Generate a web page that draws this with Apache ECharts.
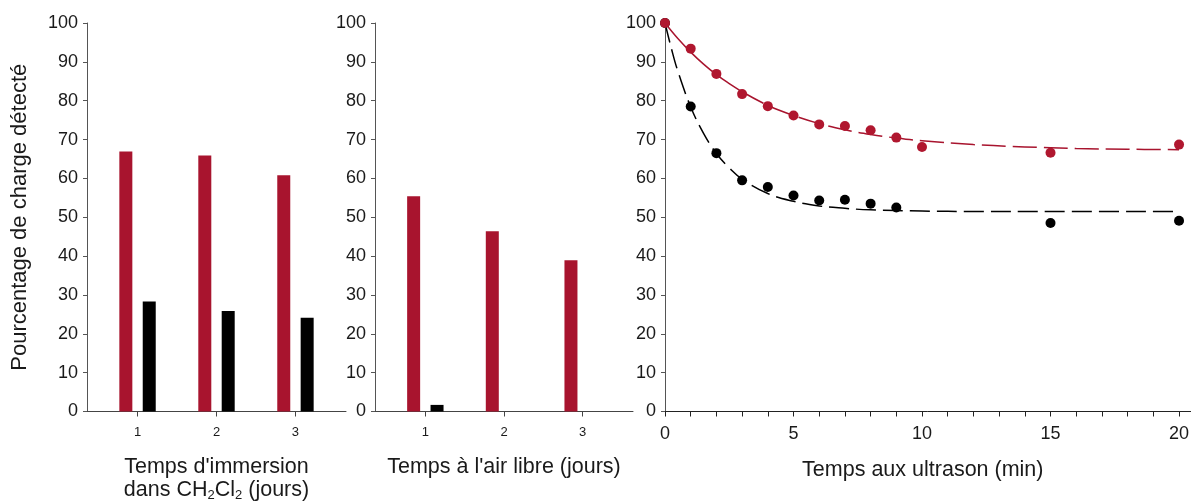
<!DOCTYPE html>
<html><head><meta charset="utf-8">
<script src="https://cdn.jsdelivr.net/npm/echarts@6/dist/echarts.min.js"></script>
<style>html,body{margin:0;padding:0;background:#fff}#c{width:1197px;height:503px}</style>
</head><body><div id="c"></div>
<script>
// ---- data ----
const categories = [1, 2, 3];
const immersionRed = [66.9, 65.9, 60.8];
const immersionBlack = [28.3, 25.9, 24.1];
const airRed = [55.4, 46.4, 38.9];
const airBlack = [1.7, 0, 0];

const ultraRedT = [0, 1, 2, 3, 4, 5, 6, 7, 8, 9, 10, 15, 20];
const ultraRed = [100, 93.4, 86.9, 81.7, 78.6, 76.2, 73.9, 73.5, 72.4, 70.5, 68.1, 66.6, 68.7];
const ultraBlackT = [0, 1, 2, 3, 4, 5, 6, 7, 8, 9, 15, 20];
const ultraBlack = [100, 78.5, 66.5, 59.5, 57.8, 55.6, 54.3, 54.5, 53.5, 52.5, 48.5, 49.1];

// fitted curves
const redFitT = [0, 0.5, 1, 1.5, 2, 2.5, 3, 4, 5, 6, 7, 8, 9, 10, 12, 14, 16, 18, 20];
const redFit = [100, 96.0, 92.5, 89.4, 86.7, 84.4, 82.3, 78.8, 76.2, 74.1, 72.5, 71.3, 70.4, 69.7, 68.7, 68.1, 67.7, 67.5, 67.4];
const blackFitT = [0, 0.25, 0.5, 1, 1.5, 2, 2.5, 3, 4, 5, 6, 7, 8, 10, 12, 15, 20];
const blackFit = [100, 93.4, 87.6, 78.4, 71.6, 66.4, 62.7, 59.8, 56.1, 54.1, 52.9, 52.3, 51.9, 51.6, 51.5, 51.5, 51.5];

const yTicks = [0, 10, 20, 30, 40, 50, 60, 70, 80, 90, 100];
const ultraTickLabels = [0, 5, 10, 15, 20];
const ultraTicks = [0,1,2,3,4,5,6,7,8,9,10,11,12,13,14,15,16,17,18,19,20];

const yName = 'Pourcentage de charge détecté';
const xName1 = "Temps d'immersion\ndans CH{s|2}Cl{s|2} (jours)";
const xName2 = "Temps à l'air libre (jours)";
const xName3 = 'Temps aux ultrason (min)';

// ---- style ----
const RED = '#a8142e';
const DOT_RED = '#b0172f';
const BLACK = '#000000';
const FONT = "'Liberation Sans', Arial, sans-serif";
const TXT = '#1a1a1a';

const pair = (xs, ys) => xs.map((x, i) => [x, ys[i]]);

function yAxis(grid, withName) {
  return {
    type: 'value', gridIndex: grid, min: 0, max: 100, interval: 10,
    name: withName ? yName : '', nameLocation: 'middle', nameGap: 56, nameRotate: 90,
    nameTextStyle: { fontFamily: FONT, fontSize: 22, color: TXT },
    axisLine: { show: true, lineStyle: { color: '#555', width: 1 } },
    axisTick: { show: true, length: 4, inside: false, lineStyle: { color: '#555' } },
    axisLabel: { fontFamily: FONT, fontSize: 18, color: TXT, margin: 9 },
    splitLine: { show: false }
  };
}
function barXAxis(grid, name, rich) {
  return {
    type: 'value', gridIndex: grid, min: 0.36, max: 3.64,
    name: name, nameLocation: 'middle', nameGap: 44,
    nameTextStyle: { fontFamily: FONT, fontSize: 21.5, color: TXT, lineHeight: 23, verticalAlign: 'top',
      rich: rich ? { s: { fontFamily: FONT, fontSize: 13, color: TXT, verticalAlign: 'bottom', padding: [12, 0, 0, 0] } } : undefined },
    axisLine: { show: true, onZero: false, lineStyle: { color: '#444', width: 1 } },
    axisTick: { show: true, length: 5, customValues: categories, lineStyle: { color: '#444' } },
    axisLabel: { fontFamily: FONT, fontSize: 13, color: TXT, margin: 14, customValues: categories },
    splitLine: { show: false }
  };
}

const gridBase = { top: 23, height: 388.5, containLabel: false, outerBoundsMode: 'none' };

const option = {
  backgroundColor: '#fff',
  animation: false,
  grid: [
    Object.assign({ left: 87, width: 259 }, gridBase),
    Object.assign({ left: 375, width: 258 }, gridBase),
    Object.assign({ left: 665, width: 525.6 }, gridBase)
  ],
  xAxis: [
    barXAxis(0, xName1, true),
    barXAxis(1, xName2, false),
    {
      type: 'value', gridIndex: 2, min: 0, max: 20.45,
      name: xName3, nameLocation: 'middle', nameGap: 48,
      nameTextStyle: { fontFamily: FONT, fontSize: 21.5, color: TXT, padding: [0, 10, 0, 0], verticalAlign: 'top' },
      axisLine: { show: true, onZero: false, lineStyle: { color: '#222', width: 1 } },
      axisTick: { show: true, length: 5, customValues: ultraTicks, lineStyle: { color: '#222' } },
      axisLabel: { fontFamily: FONT, fontSize: 18, color: TXT, margin: 14, customValues: ultraTickLabels },
      splitLine: { show: false }
    }
  ],
  yAxis: [yAxis(0, true), yAxis(1, false), yAxis(2, false)],
  series: [
    { type: 'bar', xAxisIndex: 0, yAxisIndex: 0, data: pair(categories, immersionRed), barWidth: 13, barGap: '80%', itemStyle: { color: RED } },
    { type: 'bar', xAxisIndex: 0, yAxisIndex: 0, data: pair(categories, immersionBlack), barWidth: 13, barGap: '80%', itemStyle: { color: BLACK } },
    { type: 'bar', xAxisIndex: 1, yAxisIndex: 1, data: pair(categories, airRed), barWidth: 13, barGap: '80%', itemStyle: { color: RED } },
    { type: 'bar', xAxisIndex: 1, yAxisIndex: 1, data: pair(categories, airBlack), barWidth: 13, barGap: '80%', itemStyle: { color: BLACK } },

    { type: 'line', xAxisIndex: 2, yAxisIndex: 2, data: pair(blackFitT, blackFit), smooth: 0.4, showSymbol: false,
      lineStyle: { color: BLACK, width: 1.5, type: [20, 7] }, z: 3 },
    { type: 'line', xAxisIndex: 2, yAxisIndex: 2, data: pair(redFitT, redFit).slice(0, 7), smooth: 0.4, showSymbol: false,
      lineStyle: { color: RED, width: 1.5, type: 'solid' }, z: 3 },
    { type: 'line', xAxisIndex: 2, yAxisIndex: 2, data: pair(redFitT, redFit).slice(6), smooth: 0.4, showSymbol: false,
      lineStyle: { color: RED, width: 1.5, type: [24, 7] }, z: 3 },

    { type: 'scatter', xAxisIndex: 2, yAxisIndex: 2, data: pair(ultraBlackT, ultraBlack), symbolSize: 10,
      itemStyle: { color: BLACK, opacity: 1 }, z: 4 },
    { type: 'scatter', xAxisIndex: 2, yAxisIndex: 2, data: pair(ultraRedT, ultraRed), symbolSize: 10,
      itemStyle: { color: DOT_RED, opacity: 1 }, z: 5 }
  ]
};

const chart = echarts.init(document.getElementById('c'), null, { renderer: 'canvas' });
chart.setOption(option);
</script>
</body></html>
